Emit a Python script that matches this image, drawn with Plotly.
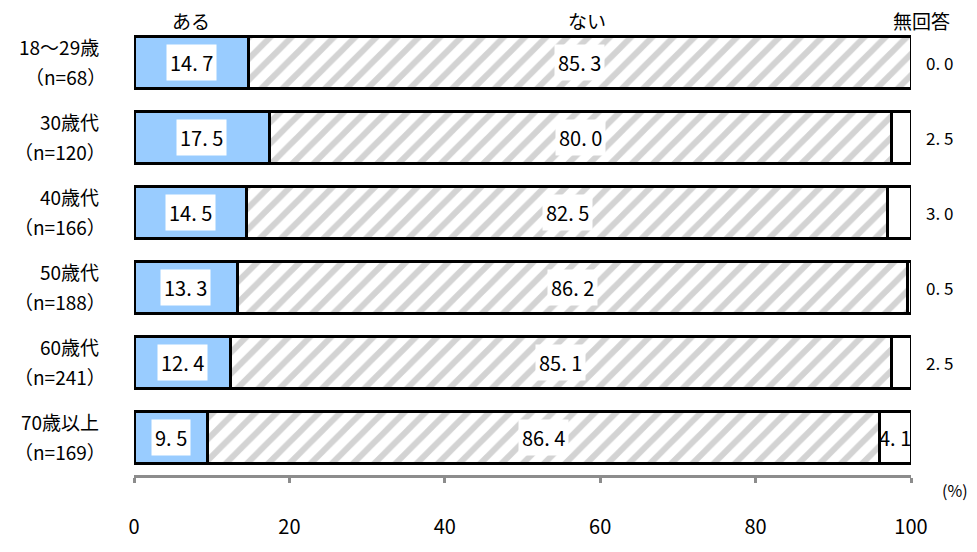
import plotly.graph_objects as go

categories = ["18～29歳", "30歳代", "40歳代", "50歳代", "60歳代", "70歳以上"]
sample_sizes = ["（n=68）", "（n=120）", "（n=166）", "（n=188）", "（n=241）", "（n=169）"]
aru = [14.7, 17.5, 14.5, 13.3, 12.4, 9.5]
nai = [85.3, 80.0, 82.5, 86.2, 85.1, 86.4]
mukaitou = [0.0, 2.5, 3.0, 0.5, 2.5, 4.1]
series_names = ["ある", "ない", "無回答"]
x_ticks = [0, 20, 40, 60, 80, 100]

FONT = "Noto Sans CJK JP"
XMAX = 100.0

def fmt(v):
    return f"{v:.1f}".replace(".", ". ")

fig = go.Figure()
fig.add_bar(y=categories, x=aru, orientation="h", name=series_names[0],
            marker=dict(color="#99CCFF", line=dict(color="black", width=3)))
fig.add_bar(y=categories, x=nai, orientation="h", name=series_names[1],
            marker=dict(color="white", line=dict(color="black", width=3),
                        pattern=dict(shape="/", fgcolor="#A8A8A8", bgcolor="white",
                                     size=15, solidity=0.4)))
fig.add_bar(y=categories, x=mukaitou, orientation="h", name=series_names[2],
            marker=dict(color="white", line=dict(color="black", width=3)))

annotations = []
vfont = dict(size=20, color="black", family=FONT)
for i, cat in enumerate(categories):
    a, n, m = aru[i], nai[i], mukaitou[i]
    annotations.append(dict(x=a / 2, y=cat, xref="x", yref="y", text=fmt(a), xanchor="center",
                            showarrow=False, bgcolor="white", borderpad=3, font=vfont))
    annotations.append(dict(x=a + n / 2, y=cat, xref="x", yref="y", text=fmt(n), xanchor="center",
                            showarrow=False, bgcolor="white", borderpad=3, font=vfont))
    if m >= 4:
        annotations.append(dict(x=(a + n + m / 2) / XMAX, y=cat, xref="paper", yref="y",
                                xanchor="center", text=fmt(m), showarrow=False, font=vfont))
    else:
        annotations.append(dict(x=1.037, y=cat, xref="paper", yref="y", text=fmt(m),
                                xanchor="center", showarrow=False,
                                font=dict(size=17, color="black", family=FONT)))
    # category labels (two lines, right aligned)
    annotations.append(dict(x=-0.043, y=cat, xref="paper", yref="y", xanchor="right",
                            yanchor="middle", yshift=16, text=cat, showarrow=False,
                            font=dict(size=19, color="black", family=FONT)))
    annotations.append(dict(x=-0.033, y=cat, xref="paper", yref="y", xanchor="right",
                            yanchor="middle", yshift=-14, text=sample_sizes[i], showarrow=False,
                            font=dict(size=19, color="black", family=FONT)))

# header labels
hfont = dict(size=19, color="black", family=FONT)
annotations.append(dict(x=aru[0] / 2 / XMAX, y=1, xref="paper", yref="paper", yanchor="middle",
                        xanchor="center", text=series_names[0], showarrow=False, yshift=5,
                        font=hfont))
annotations.append(dict(x=(aru[0] + nai[0] / 2 + 1) / XMAX, y=1, xref="paper", yref="paper",
                        xanchor="center", yanchor="middle", text=series_names[1],
                        showarrow=False, yshift=5, font=hfont))
annotations.append(dict(x=1.013, y=1, xref="paper", yref="paper", yanchor="middle",
                        xanchor="center", text=series_names[2], showarrow=False, yshift=5,
                        font=hfont))
annotations.append(dict(x=1.056, y=0, xref="paper", yref="paper", yanchor="middle",
                        xanchor="center", text="(%)", showarrow=False, yshift=-15,
                        font=dict(size=16, color="black", family=FONT)))

fig.update_layout(
    barmode="stack",
    bargap=0.31,
    showlegend=False,
    width=977, height=552,
    margin=dict(l=134, r=66, t=25, b=55),
    plot_bgcolor="white", paper_bgcolor="white",
    font=dict(family=FONT, size=18, color="black"),
    annotations=annotations,
    xaxis=dict(range=[0, XMAX], tickvals=x_ticks, showgrid=False, zeroline=False,
               showline=True, linecolor="#8C8C8C", linewidth=3,
               ticks="outside", ticklen=5, tickwidth=3, tickcolor="#8C8C8C",
               ticklabelstandoff=27, tickfont=dict(size=20, family=FONT, color="black")),
    yaxis=dict(autorange="reversed", showgrid=False, zeroline=False, showline=False,
               ticks="", showticklabels=False),
)

fig.write_html("out.html")
